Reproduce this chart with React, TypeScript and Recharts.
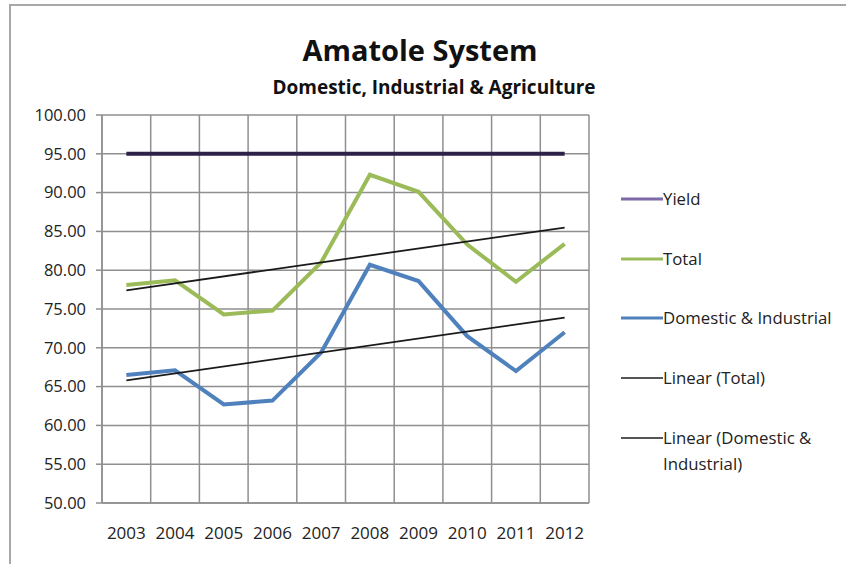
import React from 'react';
import { LineChart, Line, XAxis, YAxis, CartesianGrid, ReferenceLine } from 'recharts';

const years = ['2003', '2004', '2005', '2006', '2007', '2008', '2009', '2010', '2011', '2012'];
const yieldVals = [95, 95, 95, 95, 95, 95, 95, 95, 95, 95];
const totalVals = [78.1, 78.7, 74.3, 74.8, 81.0, 92.3, 90.1, 83.3, 78.5, 83.4];
const domesticVals = [66.5, 67.1, 62.7, 63.2, 69.4, 80.7, 78.6, 71.5, 67.0, 72.0];
const trendTotalEnds = [77.4, 85.5];
const trendDomesticEnds = [65.8, 73.9];
const yTicks = [50, 55, 60, 65, 70, 75, 80, 85, 90, 95, 100];
const boundaryTicks = [0, 1, 2, 3, 4, 5, 6, 7, 8, 9, 10];

const data = years.map((y, i) => ({
  year: y,
  yield: yieldVals[i],
  total: totalVals[i],
  domestic: domesticVals[i],
}));

const FONT = '"Open Sans", "Noto Sans", sans-serif';
const GRID = '#8f8f8f';

const legendItems = [
  { label: 'Yield', color: '#7d6aa6', w: 3 },
  { label: 'Total', color: '#9bbb59', w: 3 },
  { label: 'Domestic & Industrial', color: '#4f81bd', w: 3 },
  { label: 'Linear (Total)', color: '#555555', w: 2 },
  { label: 'Linear (Domestic &\nIndustrial)', color: '#555555', w: 2 },
];

function ChartLegend() {
  return (
    <div style={{ position: 'absolute', left: 620, top: 188, fontFamily: FONT, fontSize: 16.8, color: '#222' }}>
      {legendItems.map((it, i) => (
        <div key={i} style={{ position: 'absolute', left: 0, top: i * 59.7, display: 'flex', alignItems: 'flex-start' }}>
          <svg width={43} height={22} style={{ display: 'block', flex: 'none' }}>
            <line x1={1} x2={43} y1={11} y2={11} stroke={it.color} strokeWidth={it.w} />
          </svg>
          <div style={{ whiteSpace: 'pre', lineHeight: '26px', marginTop: -2 }}>{it.label}</div>
        </div>
      ))}
    </div>
  );
}

export default function App() {
  const vGen = ({ offset }: any) => {
    const arr: number[] = [];
    for (let i = 0; i <= years.length; i++) arr.push(offset.left + (i * offset.width) / years.length);
    return arr;
  };
  return (
    <div style={{ position: 'absolute', left: 0, top: 0, width: 846, height: 564, background: '#fff', overflow: 'hidden' }}>
      <div style={{ position: 'absolute', left: 9, top: 4, width: 900, height: 700, border: '2px solid #a8a8a8' }} />
      <div style={{ position: 'absolute', left: 0, width: 846, top: 30, textAlign: 'center', fontFamily: FONT, fontWeight: 700, fontSize: 29, color: '#111', paddingRight: 6, boxSizing: 'border-box' }}>
        Amatole System
      </div>
      <div style={{ position: 'absolute', left: 0, width: 846, top: 74, textAlign: 'center', fontFamily: FONT, fontWeight: 700, fontSize: 19, color: '#111', paddingLeft: 22, boxSizing: 'border-box' }}>
        Domestic, Industrial &amp; Agriculture
      </div>
      <div style={{ position: 'absolute', left: 0, top: 0 }}>
        <LineChart width={846} height={564} data={data} margin={{ top: 115, right: 257, left: 8, bottom: 31 }}>
          <CartesianGrid stroke={GRID} strokeWidth={1.5} verticalCoordinatesGenerator={vGen} />
          <XAxis
            xAxisId="edges"
            type="number"
            domain={[0, 10]}
            ticks={boundaryTicks}
            height={0}
            axisLine={false}
            tick={false}
            tickLine={{ stroke: GRID, strokeWidth: 1.5 }}
            tickSize={7}
          />
          <XAxis
            dataKey="year"
            scale="band"
            axisLine={{ stroke: GRID, strokeWidth: 1.5 }}
            tickLine={false}
            height={30}
            tickMargin={18}
            tick={{ fill: '#222', fontSize: 17, fontFamily: FONT }}
            interval={0}
          />
          <YAxis
            domain={[50, 100]}
            ticks={yTicks}
            width={94}
            axisLine={{ stroke: GRID, strokeWidth: 1.5 }}
            tickLine={{ stroke: GRID, strokeWidth: 1.5 }}
            tickSize={6}
            tickMargin={10}
            tickFormatter={(v: number) => v.toFixed(2)}
            tick={{ fill: '#222', fontSize: 16.5, fontFamily: FONT }}
          />
          <Line dataKey="yield" stroke="#2e2147" strokeWidth={4} dot={false} isAnimationActive={false} />
          <Line dataKey="total" stroke="#9bbb59" strokeWidth={4} dot={false} isAnimationActive={false} />
          <Line dataKey="domestic" stroke="#4f81bd" strokeWidth={4} dot={false} isAnimationActive={false} />
          <ReferenceLine
            segment={[{ x: years[0], y: trendTotalEnds[0] }, { x: years[years.length - 1], y: trendTotalEnds[1] }]}
            stroke="#1a1a1a"
            strokeWidth={1.8}
          />
          <ReferenceLine
            segment={[{ x: years[0], y: trendDomesticEnds[0] }, { x: years[years.length - 1], y: trendDomesticEnds[1] }]}
            stroke="#1a1a1a"
            strokeWidth={1.8}
          />
        </LineChart>
      </div>
      <ChartLegend />
    </div>
  );
}
